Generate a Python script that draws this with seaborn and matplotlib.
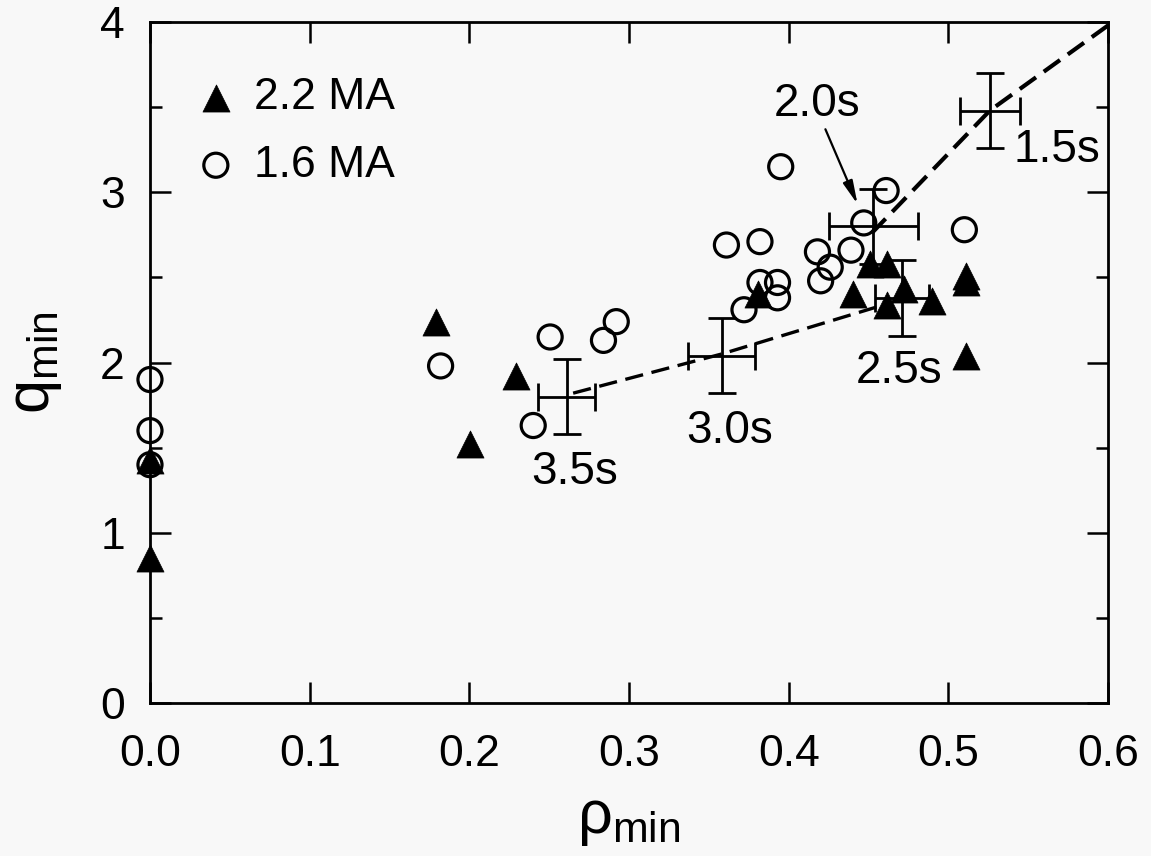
import numpy as np
import pandas as pd
import seaborn as sns
import matplotlib.pyplot as plt

# ============================================================
# DATA
# ============================================================

# 2.2 MA discharges (filled triangles)
rho_22 = [0.0, 0.0, 0.179, 0.2005, 0.229, 0.381, 0.440, 0.451, 0.4616,
          0.4616, 0.4724, 0.490, 0.511, 0.511, 0.511]
q_22 = [0.85, 1.43, 2.24, 1.52, 1.92, 2.40, 2.40, 2.58, 2.58,
        2.34, 2.43, 2.36, 2.51, 2.47, 2.04]

# 1.6 MA discharges (open circles)
rho_16 = [0.0, 0.0, 0.0, 0.182, 0.240, 0.2506, 0.284, 0.292, 0.361, 0.372,
          0.382, 0.382, 0.393, 0.393, 0.395, 0.418, 0.420, 0.426, 0.439,
          0.447, 0.461, 0.510]
q_16 = [1.90, 1.60, 1.40, 1.98, 1.63, 2.15, 2.13, 2.24, 2.69, 2.31,
        2.71, 2.47, 2.47, 2.38, 3.15, 2.65, 2.48, 2.56, 2.66,
        2.82, 3.01, 2.78]

# time-slice averages with error bars
t_labels = ["1.5s", "2.0s", "2.5s", "3.0s", "3.5s"]
t_rho = [0.526, 0.453, 0.471, 0.358, 0.261]
t_q = [3.48, 2.80, 2.38, 2.04, 1.80]
t_rho_err = [0.019, 0.028, 0.017, 0.021, 0.018]
t_q_err = [0.22, 0.22, 0.225, 0.22, 0.22]
label_rho = [0.568, 0.418, 0.469, 0.363, 0.266]
label_q = [3.25, 3.52, 1.95, 1.60, 1.357]

# dashed guide lines
low_rho = [0.265, 0.358, 0.460]
low_q = [1.82, 2.05, 2.34]
up_rho = [0.452, 0.526, 0.600]
up_q = [2.76, 3.48, 3.98]

# ============================================================
# STYLE
# ============================================================

sns.set_style("ticks", {"axes.edgecolor": "black", "text.color": "black",
                        "axes.labelcolor": "black", "xtick.color": "black",
                        "ytick.color": "black"})
plt.rcParams["font.family"] = ["Liberation Sans", "DejaVu Sans"]
plt.rcParams["mathtext.fontset"] = "custom"
plt.rcParams["mathtext.rm"] = "Liberation Sans"
bg = "#f8f8f8"

fig = plt.figure(figsize=(11.51, 8.56), dpi=100, facecolor=bg)
ax = fig.add_axes([0.1303, 0.1787, 0.8324, 0.7956])
ax.set_facecolor(bg)

df22 = pd.DataFrame({"rho": rho_22, "q": q_22})
df16 = pd.DataFrame({"rho": rho_16, "q": q_16})

sns.lineplot(x=low_rho, y=low_q, ax=ax, color="black", lw=2.4,
             sort=False, zorder=2).lines[-1].set_dashes((5.5, 2.6))
sns.lineplot(x=up_rho, y=up_q, ax=ax, color="black", lw=3.0,
             sort=False, zorder=2).lines[-1].set_dashes((4.8, 2.3))

sns.scatterplot(data=df16, x="rho", y="q", ax=ax, marker="o", s=300,
                facecolor="none", edgecolor="black", linewidth=2.3,
                label="1.6 MA", clip_on=False, zorder=4)
sns.scatterplot(data=df22, x="rho", y="q", ax=ax, marker="^", s=380,
                color="black", edgecolor="black", linewidth=0.5,
                label="2.2 MA", clip_on=False, zorder=5)

ax.errorbar(t_rho, t_q, xerr=t_rho_err, yerr=t_q_err, fmt="none",
            ecolor="black", elinewidth=2.0, capsize=10, capthick=2.0, zorder=3)

for lab, lx, ly in zip(t_labels, label_rho, label_q):
    ax.text(lx, ly, lab, fontsize=33, ha="center", va="center")

ax.annotate("", xy=(0.4438, 2.915), xytext=(0.4223, 3.385),
            arrowprops=dict(arrowstyle="-|>,head_length=1.4,head_width=0.3",
                            color="black", lw=1.6))

ax.set_xlim(0, 0.6)
ax.set_ylim(0, 4)
ax.set_xticks(np.arange(0, 0.61, 0.1))
ax.set_xticklabels([f"{v:.1f}" for v in np.arange(0, 0.61, 0.1)])
ax.set_yticks([0, 1, 2, 3, 4])
ax.set_yticks(np.arange(0.5, 4, 1.0), minor=True)
ax.tick_params(which="both", direction="in", top=True, right=True,
               width=1.8, labelsize=32, colors="black")
ax.tick_params(which="major", length=15)
ax.tick_params(which="minor", length=8.5)
ax.tick_params(axis="x", pad=22)
ax.tick_params(axis="y", pad=18)
for sp in ax.spines.values():
    sp.set_linewidth(2.0)
    sp.set_color("black")

ax.set_xlabel("ρ$_{\\mathrm{min}}$", fontsize=44, labelpad=12)
ax.set_ylabel("q$_{\\mathrm{min}}$", fontsize=44, labelpad=26)

h, l = ax.get_legend_handles_labels()
ax.legend(h[::-1], l[::-1], loc="upper left", bbox_to_anchor=(0.027, 0.945),
          frameon=False, fontsize=32, handletextpad=0.35, labelspacing=0.6,
          borderaxespad=0, handlelength=1.0)

plt.savefig("out.png", dpi=100, facecolor=bg)
